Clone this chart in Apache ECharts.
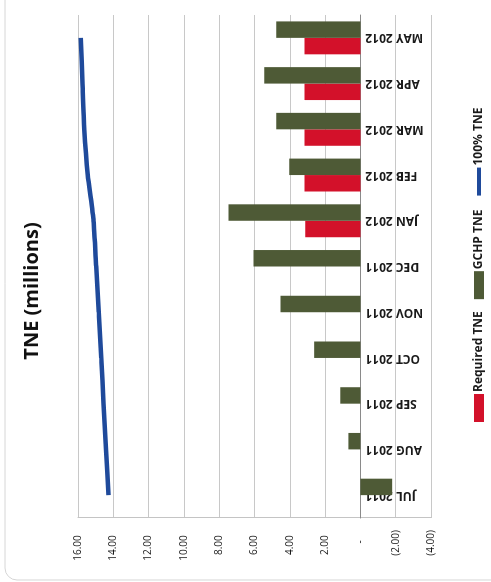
<!DOCTYPE html>
<html>
<head>
<meta charset="utf-8">
<title>TNE (millions)</title>
<script src="https://cdn.jsdelivr.net/npm/echarts@6/dist/echarts.min.js"></script>
<style>
  html, body { margin: 0; padding: 0; background: #ffffff; width: 491px; height: 582px; overflow: hidden; }
  /* The chart is laid out as a column chart and turned a quarter-turn counter-clockwise on the page */
  #chart {
    position: absolute; left: 0; top: 0;
    width: 582px; height: 491px;
    transform-origin: 0 0;
    transform: translateY(582px) rotate(-90deg);
  }
</style>
</head>
<body>
<div id="chart"></div>
<script>
// Monthly TNE figures, in millions
const months = ['JUL 2011', 'AUG 2011', 'SEP 2011', 'OCT 2011', 'NOV 2011', 'DEC 2011',
                'JAN 2012', 'FEB 2012', 'MAR 2012', 'APR 2012', 'MAY 2012'];
const requiredTne = [null, null, null, null, null, null, 3.12, 3.17, 3.17, 3.17, 3.17];
const gchpTne     = [-1.80, 0.68, 1.14, 2.62, 4.52, 6.05, 7.47, 4.03, 4.77, 5.45, 4.77];
const fullTne     = [14.27, 14.41, 14.55, 14.68, 14.82, 14.97, 15.12, 15.45, 15.65, 15.75, 15.84];
const seriesNames = ['Required TNE', 'GCHP TNE', '100% TNE'];
const valueMin = -4, valueMax = 16, valueStep = 2;

// Plot box inside the 582 x 491 chart
const chartHeight = 491;
const grid = { left: 64, right: 15, top: 78, bottom: 60 };
const plotHeight = chartHeight - grid.top - grid.bottom;
// The month axis sits on the zero line, so pull it up from the bottom edge of the plot
const zeroOffset = -plotHeight * (0 - valueMin) / (valueMax - valueMin);

// Accounting style: 2.00 / - / (2.00)
function accounting(v) {
  if (Math.abs(v) < 1e-9) return '-    ';
  if (v < 0) return '(' + (-v).toFixed(2) + ')';
  return v.toFixed(2) + '  ';
}

const chart = echarts.init(document.getElementById('chart'), null, { renderer: 'canvas' });

chart.setOption({
  animation: false,
  backgroundColor: '#ffffff',
  textStyle: { fontFamily: 'Open Sans' },
  title: {
    text: 'TNE (millions)',
    left: 'center',
    top: 17,
    textStyle: { fontFamily: 'Open Sans', fontSize: 20, fontWeight: 'bold', color: '#111111' }
  },
  graphic: [{
    type: 'rect',
    silent: true,
    z: -10,
    shape: { x: 2, y: 5, width: 640, height: 620, r: 12 },
    style: { fill: 'none', stroke: '#d6d6d6', lineWidth: 1 }
  }],
  legend: {
    left: 155,
    top: 468,
    itemWidth: 28,
    itemHeight: 10,
    itemGap: 12,
    textStyle: { fontFamily: 'Open Sans', fontSize: 12, fontWeight: 'bold', color: '#1a1a1a', padding: [0, 0, 0, -3] },
    data: [
      { name: seriesNames[0], icon: 'rect' },
      { name: seriesNames[1], icon: 'rect' },
      { name: seriesNames[2], itemStyle: { opacity: 0 }, lineStyle: { width: 4 } }
    ]
  },
  grid: Object.assign({ containLabel: false, outerBoundsMode: 'none' }, grid),
  xAxis: {
    type: 'category',
    data: months,
    offset: zeroOffset,
    axisLine: { onZero: false, lineStyle: { color: '#8a8a8a', width: 1 } },
    axisTick: { show: false },
    axisLabel: {
      interval: 0,
      rotate: 90,
      margin: 5,
      fontFamily: 'Open Sans',
      fontSize: 12,
      fontWeight: 'bold',
      color: '#1a1a1a'
    }
  },
  yAxis: {
    type: 'value',
    min: valueMin,
    max: valueMax,
    interval: valueStep,
    axisLine: { show: true, lineStyle: { color: '#c4c4c4' } },
    axisTick: { show: false },
    splitLine: { lineStyle: { color: '#c8c8c8', width: 1 } },
    axisLabel: {
      margin: 12,
      fontFamily: 'Open Sans',
      fontSize: 10,
      color: '#1a1a1a',
      formatter: accounting
    }
  },
  series: [
    {
      name: seriesNames[0],
      type: 'bar',
      data: requiredTne,
      barGap: '0%',
      barCategoryGap: '28%',
      itemStyle: { color: '#d3112a' }
    },
    {
      name: seriesNames[1],
      type: 'bar',
      data: gchpTne,
      barGap: '0%',
      barCategoryGap: '28%',
      itemStyle: { color: '#4e5a36' }
    },
    {
      name: seriesNames[2],
      type: 'line',
      data: fullTne,
      symbol: 'none',
      smooth: 0.2,
      itemStyle: { color: '#1f4a9b' },
      lineStyle: { color: '#1f4a9b', width: 4.5 }
    }
  ]
});
</script>
</body>
</html>
